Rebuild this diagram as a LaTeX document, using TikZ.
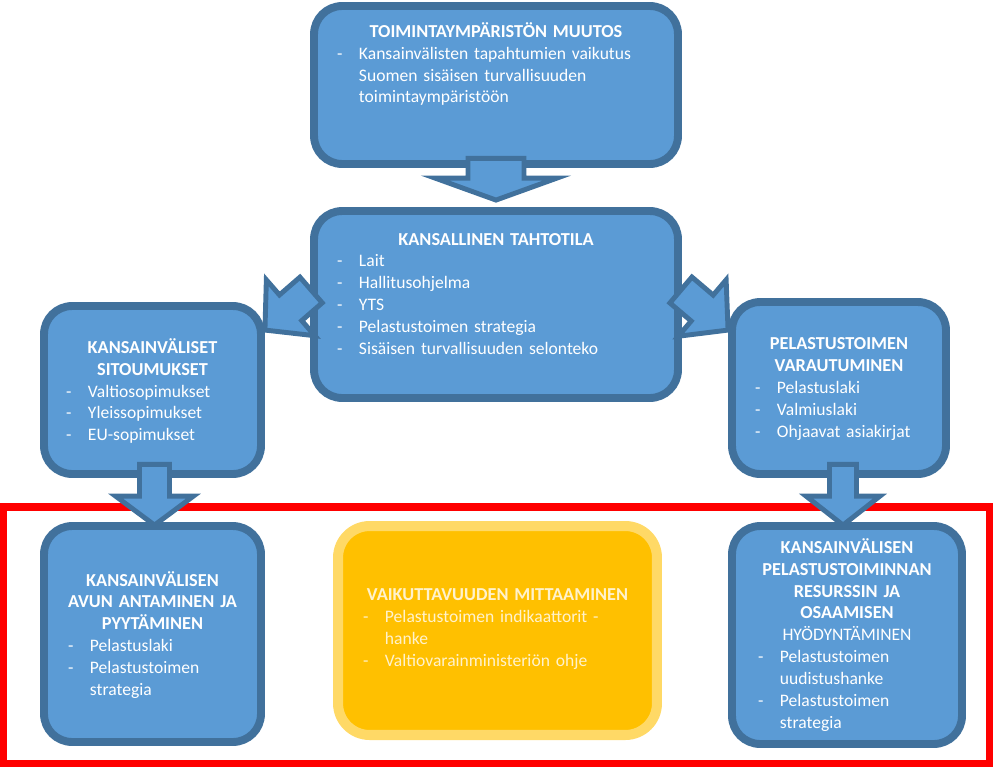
\documentclass[tikz,border=0pt]{standalone}
\usepackage{fontspec}
\setmainfont{Carlito}
\usetikzlibrary{calc}
\definecolor{clrBox}{HTML}{5B9BD5}
\definecolor{clrEdge}{HTML}{41719C}
\definecolor{clrGold}{HTML}{FFC000}
\definecolor{clrGoldEdge}{HTML}{FFD966}
\definecolor{clrGoldText}{HTML}{FFF2CC}
\definecolor{clrFrame}{HTML}{FF0000}
\newlength{\dashind}\setlength{\dashind}{12.5pt}
\newcommand{\hd}[1]{\makebox[\hsize][c]{\fontsize{10.4}{12.5}\selectfont\bfseries #1}}
\newcommand{\hdn}[1]{\makebox[\hsize][c]{#1}}
\newcommand{\itm}[1]{\makebox[\dashind][l]{-}#1}
\newcommand{\cnt}[1]{\hspace*{\dashind}#1}
% shaft half width, head half width, head length, tail, tip
\newcommand{\blockarrow}[5]{%
  \coordinate (ba-base) at ($(#5)!#3!(#4)$);
  \draw[bigarrow] ($(#4)!#1!90:(#5)$) -- ($(ba-base)!#1!90:(#5)$)
    -- ($(ba-base)!#2!90:(#5)$) -- (#5) -- ($(ba-base)!#2!-90:(#5)$)
    -- ($(ba-base)!#1!-90:(#5)$) -- ($(#4)!#1!-90:(#5)$) -- cycle;
}
\tikzset{
  bluebox/.style = {rectangle, rounded corners=16pt, draw=clrEdge, fill=clrBox, line width=4.5pt},
  goldbox/.style = {rectangle, rounded corners=18pt, draw=clrGoldEdge, fill=clrGold, line width=5.7pt},
  boxtext/.style = {align=left, inner sep=0pt, text=white, font=\fontsize{10}{12.5}\selectfont},
  bigarrow/.style = {draw=clrEdge, fill=clrBox, line width=2.8pt, line join=miter},
  frame/.style = {draw=clrFrame, line width=4pt},
}

\begin{document}
\begin{tikzpicture}[x=0.02cm, y=-0.02cm]
\useasboundingbox (0,0) rectangle (993,768);

% frame round the bottom row
\draw[frame] (3.5,507) rectangle (989,763);

% Boxes
\node[bluebox, minimum width=7.28cm, minimum height=3.16cm] (muutos) at (496,85) {};
\node[bluebox, minimum width=7.28cm, minimum height=3.74cm] (tahtotila) at (496,304.5) {};
\node[bluebox, minimum width=4.34cm, minimum height=3.36cm] (sitoum) at (152.5,390) {};
\node[bluebox, minimum width=4.28cm, minimum height=3.44cm] (varaut) at (839,388) {};
\node[bluebox, minimum width=4.34cm, minimum height=4.32cm] (apu) at (152.5,634) {};
\node[goldbox, minimum width=6.38cm, minimum height=4.18cm] (mittaus) at (497.5,630.5) {};
\node[bluebox, minimum width=4.60cm, minimum height=4.36cm] (hyoty) at (847,635) {};

% Arrows
\coordinate (a1-tail) at ($(muutos.south)+(0,-9.5)$);
\coordinate (a1-tip) at ($(tahtotila.north)+(0,-7)$);
\coordinate (a2-tail) at ($(tahtotila.west)+(1,-14.5)$);
\coordinate (a2-tip) at ($(sitoum.north east)+(0,28)$);
\coordinate (a3-tail) at ($(tahtotila.east)+(-1,-14.5)$);
\coordinate (a3-tip) at ($(varaut.north west)+(0,32)$);
\coordinate (a4-tail) at ($(sitoum.south)+(2,-13.5)$);
\coordinate (a4-tip) at ($(apu.north)+(2,3)$);
\coordinate (a5-tail) at ($(varaut.south)+(4,-13.5)$);
\coordinate (a5-tip) at ($(hyoty.north)+(-4,3)$);
\blockarrow{0.56cm}{1.22cm}{0.44cm}{a1-tail}{a1-tip}
\blockarrow{0.34cm}{0.74cm}{0.68cm}{a2-tail}{a2-tip}
\blockarrow{0.34cm}{0.74cm}{0.68cm}{a3-tail}{a3-tip}
\blockarrow{0.30cm}{0.78cm}{0.58cm}{a4-tail}{a4-tip}
\blockarrow{0.27cm}{0.74cm}{0.58cm}{a5-tail}{a5-tip}

% Texts
\node[boxtext, text width=6.36cm] (muutos-txt) at (496,64) {%
  \hd{TOIMINTAYMPÄRISTÖN MUUTOS}\\
  \itm{Kansainvälisten tapahtumien vaikutus}\\
  \cnt{Suomen sisäisen turvallisuuden}\\
  \cnt{toimintaympäristöön}};
\node[boxtext, text width=6.36cm] (tahtotila-txt) at (496,294) {%
  \hd{KANSALLINEN TAHTOTILA}\\
  \itm{Lait}\\
  \itm{Hallitusohjelma}\\
  \itm{YTS}\\
  \itm{Pelastustoimen strategia}\\
  \itm{Sisäisen turvallisuuden selonteko}};
\node[boxtext, text width=3.46cm] (sitoum-txt) at (152.5,391) {%
  \hd{KANSAINVÄLISET}\\
  \hd{SITOUMUKSET}\\
  \itm{Valtiosopimukset}\\
  \itm{Yleissopimukset}\\
  \itm{EU-sopimukset}};
\node[boxtext, text width=3.36cm] (varaut-txt) at (839,389) {%
  \hd{PELASTUSTOIMEN}\\
  \hd{VARAUTUMINEN}\\
  \itm{Pelastuslaki}\\
  \itm{Valmiuslaki}\\
  \itm{Ohjaavat asiakirjat}};
\node[boxtext, text width=3.38cm] (apu-txt) at (152.5,635) {%
  \hd{KANSAINVÄLISEN}\\
  \hd{AVUN ANTAMINEN JA}\\
  \hd{PYYTÄMINEN}\\
  \itm{Pelastuslaki}\\
  \itm{Pelastustoimen}\\
  \cnt{strategia}};
\node[boxtext, text width=5.38cm, text=clrGoldText] (mittaus-txt) at (497.5,629) {%
  \hd{VAIKUTTAVUUDEN MITTAAMINEN}\\
  \itm{Pelastustoimen indikaattorit -}\\
  \cnt{hanke}\\
  \itm{Valtiovarainministeriön ohje}};
\node[boxtext, text width=3.56cm] (hyoty-txt) at (847,635) {%
  \hd{KANSAINVÄLISEN}\\
  \hd{PELASTUSTOIMINNAN}\\
  \hd{RESURSSIN JA}\\
  \hd{OSAAMISEN}\\
  \hdn{HYÖDYNTÄMINEN}\\
  \itm{Pelastustoimen}\\
  \cnt{uudistushanke}\\
  \itm{Pelastustoimen}\\
  \cnt{strategia}};
\end{tikzpicture}
\end{document}
